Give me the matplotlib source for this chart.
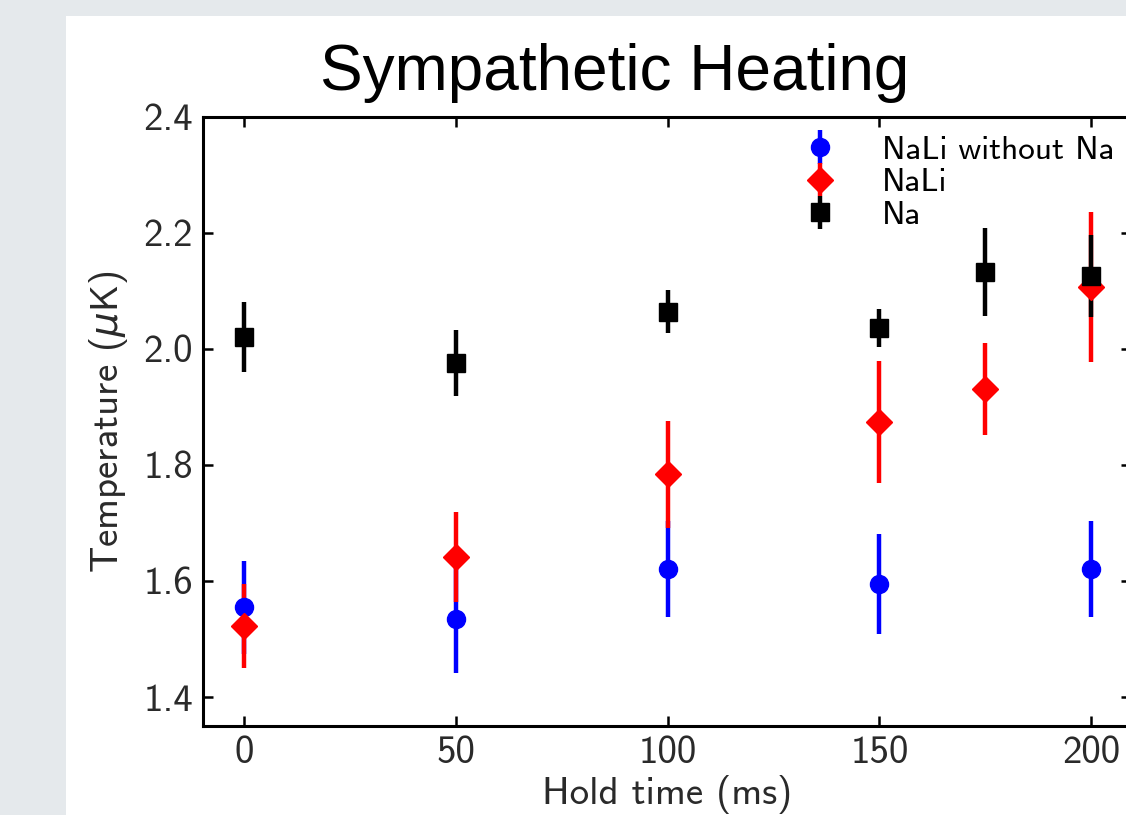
import matplotlib
matplotlib.use('Agg')
import matplotlib.pyplot as plt
import matplotlib.patches as patches

# hold times (ms)
hold_time = [0, 50, 100, 150, 175, 200]
hold_time_nali_wo = [0, 50, 100, 150, 200]

# NaLi without Na (blue circles)
temp_nali_wo = [1.555, 1.534, 1.621, 1.595, 1.621]
err_nali_wo = [0.08, 0.093, 0.083, 0.086, 0.083]

# NaLi (red diamonds)
temp_nali = [1.522, 1.641, 1.784, 1.874, 1.931, 2.107]
err_nali = [0.072, 0.078, 0.092, 0.105, 0.08, 0.13]

# Na (black squares)
temp_na = [2.021, 1.976, 2.064, 2.036, 2.133, 2.126]
err_na = [0.06, 0.057, 0.037, 0.033, 0.076, 0.07]

x_ticks = [0, 50, 100, 150, 200]
y_ticks = [1.4, 1.6, 1.8, 2.0, 2.2, 2.4]

W, H = 1126, 815
fig = plt.figure(figsize=(W / 100, H / 100), dpi=100, facecolor='#e5e9ec')

# white slide panel
panel = patches.Rectangle((66 / W, 0), 1 - 66 / W, (H - 16) / H, transform=fig.transFigure,
                          facecolor='white', edgecolor='none', zorder=-5)
fig.patches.append(panel)

fig.text(615 / W, 1 - 73 / H, 'Sympathetic Heating', ha='center', va='center',
         fontsize=46, family='Liberation Sans', color='black')

ax = fig.add_axes([203 / W, (H - 726) / H, 928 / W, (726 - 117) / H])
ax.set_facecolor('white')

tick_font = {'family': 'cmss10', 'size': 28}

series = [
    (hold_time_nali_wo, temp_nali_wo, err_nali_wo, 'o', 'blue', 'NaLi without Na'),
    (hold_time, temp_nali, err_nali, 'D', 'red', 'NaLi'),
    (hold_time, temp_na, err_na, 's', 'black', 'Na'),
]
containers = []
for i, (x, y, e, m, c, lab) in enumerate(series):
    cont = ax.errorbar(x, y, yerr=e, fmt=m, color=c, ms=13, elinewidth=3.2, capsize=0, label=lab)
    # bars under every marker, later series on top
    cont.lines[2][0].set_zorder(2 + 0.1 * i)
    cont.lines[0].set_zorder(3 + 0.1 * i)
    containers.append(cont)

ax.set_xlim(-9.7, 209.4)
ax.set_ylim(1.35, 2.4)
ax.set_xticks(x_ticks)
ax.set_yticks(y_ticks)
ax.set_xticklabels([str(t) for t in x_ticks], fontdict=tick_font, color='#2a2a2a')
ax.set_yticklabels(['%.1f' % t for t in y_ticks], fontdict=tick_font, color='#2a2a2a')
ax.tick_params(direction='in', top=True, right=True, length=7, width=1.8, pad=7)
for sp in ax.spines.values():
    sp.set_linewidth(2.2)

ax.set_xlabel('Hold time (ms)', family='cmss10', fontsize=28, color='#2a2a2a', labelpad=3)
ax.set_ylabel(r'Temperature ($\mu$K)', family='cmss10', fontsize=28, color='#2a2a2a', labelpad=10)

ax.legend(handles=containers, loc='upper left', bbox_to_anchor=(0.627, 1.0), frameon=False,
          prop={'family': 'cmss10', 'size': 24}, handlelength=1.0, handletextpad=1.35,
          labelspacing=0.1, borderaxespad=0.15)

fig.savefig('out.png', dpi=100, facecolor=fig.get_facecolor())
